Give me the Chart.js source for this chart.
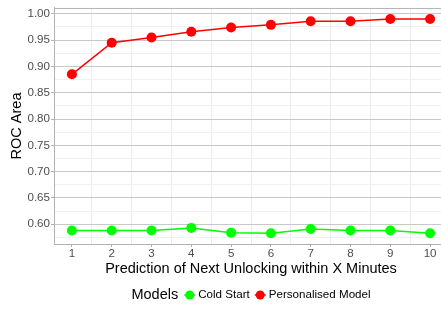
<!DOCTYPE html>
<html><head>
<meta charset="utf-8">
<script src="https://cdn.jsdelivr.net/npm/chart.js@4"></script>
<style>html,body{margin:0;padding:0;overflow:hidden;background:#fff}#wrap{width:460px;height:311px}</style>
</head><body><div id="wrap"><canvas id="c" width="460" height="311"></canvas></div>
<script>
const minutes = [1, 2, 3, 4, 5, 6, 7, 8, 9, 10];
const personalised = [0.885, 0.945, 0.955, 0.966, 0.974, 0.979, 0.986, 0.986, 0.990, 0.990];
const coldStart = [0.588, 0.588, 0.588, 0.593, 0.584, 0.583, 0.591, 0.588, 0.588, 0.583];
const yTickLabels = ['0.60', '0.65', '0.70', '0.75', '0.80', '0.85', '0.90', '0.95', '1.00'];
const xTickLabels = ['1', '2', '3', '4', '5', '6', '7', '8', '9', '10'];
const seriesNames = ['Cold Start', 'Personalised Model'];
const legendTitle = 'Models';
const xTitle = 'Prediction of Next Unlocking within X Minutes';
const yTitle = 'ROC Area';

const FONT = '"Liberation Sans", Arial, Helvetica, sans-serif';
const GREEN = '#00ff00', RED = '#ff0000';

const yMajor = yTickLabels.map(Number);
const yMinor = [yMajor[0] - 0.025].concat(yMajor.slice(0, -1).map((v, i) => (v + yMajor[i + 1]) / 2));
const xMajor = xTickLabels.map(Number);
const xMinor = xMajor.slice(0, -1).map((v, i) => (v + xMajor[i + 1]) / 2);
const isMajorY = v => yMajor.some(m => Math.abs(m - v) < 1e-6);
const isMajorX = v => xMajor.some(m => Math.abs(m - v) < 1e-6);

const pts = arr => minutes.map((m, i) => ({x: m, y: arr[i]}));

const frame = {
  id: 'frame',
  afterDraw(chart) {
    const {ctx, chartArea: a} = chart;
    ctx.save();
    ctx.strokeStyle = '#b3b3b3';
    ctx.lineWidth = 1;
    ctx.beginPath();
    ctx.moveTo(a.left, a.top + 0.5);
    ctx.lineTo(a.right, a.top + 0.5);
    ctx.stroke();
    // legend
    const cy = 295;
    ctx.textBaseline = 'middle';
    ctx.textAlign = 'left';
    ctx.font = '14.5px ' + FONT;
    const tW = ctx.measureText(legendTitle).width;
    ctx.font = '11.6px ' + FONT;
    const w1 = ctx.measureText(seriesNames[0]).width;
    const w2 = ctx.measureText(seriesNames[1]).width;
    const key = 11, g0 = 6, g1 = 3, g2 = 5;
    const total = tW + g0 + key + g1 + w1 + g2 + key + g1 + w2;
    let x = (a.left + a.right) / 2 - total / 2;
    ctx.fillStyle = '#000';
    ctx.font = '14.5px ' + FONT;
    ctx.fillText(legendTitle, x, cy);
    x += tW + g0;
    const drawKey = (x0, col) => {
      ctx.strokeStyle = col; ctx.lineWidth = 1.5;
      ctx.beginPath(); ctx.moveTo(x0, cy); ctx.lineTo(x0 + key, cy); ctx.stroke();
      ctx.fillStyle = col;
      ctx.beginPath(); ctx.arc(x0 + key / 2, cy, 4.5, 0, Math.PI * 2); ctx.fill();
    };
    drawKey(x, GREEN);
    x += key + g1;
    ctx.fillStyle = '#000';
    ctx.font = '11.6px ' + FONT;
    ctx.fillText(seriesNames[0], x, cy);
    x += w1 + g2;
    drawKey(x, RED);
    x += key + g1;
    ctx.fillStyle = '#000';
    ctx.font = '11.6px ' + FONT;
    ctx.fillText(seriesNames[1], x, cy);
    ctx.restore();
  }
};

new Chart(document.getElementById('c'), {
  type: 'line',
  data: {
    datasets: [
      {label: seriesNames[0], data: pts(coldStart), borderColor: GREEN, backgroundColor: GREEN,
       pointBackgroundColor: GREEN, pointBorderWidth: 0, pointRadius: 5, borderWidth: 1.5, tension: 0},
      {label: seriesNames[1], data: pts(personalised), borderColor: RED, backgroundColor: RED,
       pointBackgroundColor: RED, pointBorderWidth: 0, pointRadius: 5, borderWidth: 1.5, tension: 0}
    ]
  },
  options: {
    responsive: false,
    animation: false,
    devicePixelRatio: 1,
    layout: {padding: {left: 0, top: 5, right: 12, bottom: 28}},
    plugins: {legend: {display: false}, tooltip: {enabled: false}},
    scales: {
      x: {
        type: 'linear', min: 0.55, max: 10.45,
        afterBuildTicks: s => { s.ticks = xMajor.concat(xMinor).sort((a, b) => a - b).map(v => ({value: v})); },
        afterFit: s => { s.height = 39; },
        ticks: {
          autoSkip: false, maxRotation: 0, padding: 0, color: '#4d4d4d',
          font: {family: FONT, size: 11.6},
          callback: v => { const i = xMajor.findIndex(m => Math.abs(m - v) < 1e-6); return i >= 0 ? xTickLabels[i] : ''; }
        },
        grid: {
          color: c => isMajorX(c.tick.value) ? 'rgba(0,0,0,0)' : '#ececec',
          tickColor: c => isMajorX(c.tick.value) ? '#b3b3b3' : 'rgba(0,0,0,0)',
          tickLength: 3, lineWidth: 1
        },
        border: {color: '#b3b3b3', width: 1},
        title: {display: true, text: xTitle, color: '#000', font: {family: FONT, size: 14.5}, padding: {top: 0, bottom: 5}}
      },
      y: {
        type: 'linear', min: 0.5624, max: 1.0111,
        afterBuildTicks: s => { s.ticks = yMajor.concat(yMinor).sort((a, b) => a - b).map(v => ({value: v})); },
        afterFit: s => { s.width = 54; },
        ticks: {
          autoSkip: false, padding: 1, color: '#4d4d4d',
          font: {family: FONT, size: 11.6},
          callback: v => { const i = yMajor.findIndex(m => Math.abs(m - v) < 1e-6); return i >= 0 ? yTickLabels[i] : ''; }
        },
        grid: {
          color: c => isMajorY(c.tick.value) ? '#c8c8c8' : '#f0f0f0',
          tickColor: c => isMajorY(c.tick.value) ? '#b3b3b3' : 'rgba(0,0,0,0)',
          tickLength: 3, lineWidth: 1
        },
        border: {color: '#b3b3b3', width: 1},
        title: {display: true, text: yTitle, color: '#000', font: {family: FONT, size: 14.5}, padding: {top: 8, bottom: 0}}
      }
    }
  },
  plugins: [frame]
});
</script>
</body></html>
